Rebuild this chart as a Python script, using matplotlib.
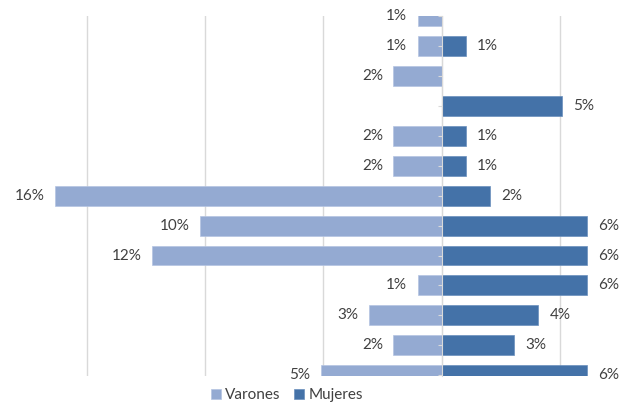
import matplotlib.pyplot as plt
from matplotlib.ticker import MultipleLocator

# Valores (%), de arriba hacia abajo
rows = list(range(13))
varones = [1.02, 1.02, 2.04, 0.0, 2.04, 2.04, 16.33, 10.20, 12.24, 1.02, 3.06, 2.04, 5.10]
mujeres = [0.0, 1.02, 0.0, 5.10, 1.02, 1.02, 2.04, 6.12, 6.12, 6.12, 4.08, 3.06, 6.12]
series_names = ["Varones", "Mujeres"]

c_var = "#94AAD2"
c_muj = "#4472A8"
txt = "#404040"

plt.rcParams["font.family"] = ["Lato", "DejaVu Sans"]

fig = plt.figure(figsize=(6.27, 4.05), dpi=100)
ax = fig.add_axes([20 / 627, 1 - 376 / 405, 590 / 627, (376 - 15.7) / 405])

bv = ax.barh(rows, [-v for v in varones], height=0.667, color=c_var,
             edgecolor="#b4c4e2", linewidth=0.5, zorder=2, label=series_names[0])
bm = ax.barh(rows, mujeres, height=0.667, color=c_muj,
             edgecolor="#6a8fbd", linewidth=0.5, zorder=2, label=series_names[1])

# etiquetas de datos
for r, v in zip(rows, varones):
    if v > 0:
        ax.annotate(f"{v:.0f}%", (-v, r), xytext=(-7.5, 0), textcoords="offset points",
                    ha="right", va="center", fontsize=11, color=txt, annotation_clip=False)
for r, v in zip(rows, mujeres):
    if v > 0:
        ax.annotate(f"{v:.0f}%", (v, r), xytext=(8, 0), textcoords="offset points",
                    ha="left", va="center", fontsize=11, color=txt, annotation_clip=False)

ax.set_xlim((20 - 441.7) / 23.67, (610 - 441.7) / 23.67)
ax.set_ylim(12.02, 0.0)

ax.xaxis.set_major_locator(MultipleLocator(5))
ax.grid(axis="x", color="#d9d9d9", linewidth=1)
ax.set_axisbelow(True)
ax.tick_params(axis="x", length=0, labelbottom=False)

for s in ["top", "right", "bottom"]:
    ax.spines[s].set_visible(False)
ax.spines["left"].set_position(("data", 0))
ax.spines["left"].set_color("#d9d9d9")
ax.spines["left"].set_zorder(3)
ax.set_yticks(rows)
ax.set_yticklabels([])
ax.tick_params(axis="y", length=3, color="#d9d9d9", direction="out")
ax.yaxis.set_zorder(3)

fig.legend(handles=[bv, bm], labels=series_names, loc="center",
           bbox_to_anchor=(287 / 627, 1 - 395 / 405), ncol=2, frameon=False,
           fontsize=11, labelcolor=txt, handlelength=0.65, handleheight=0.65,
           handletextpad=0.3, columnspacing=0.9)

fig.savefig("out.png", dpi=100)
